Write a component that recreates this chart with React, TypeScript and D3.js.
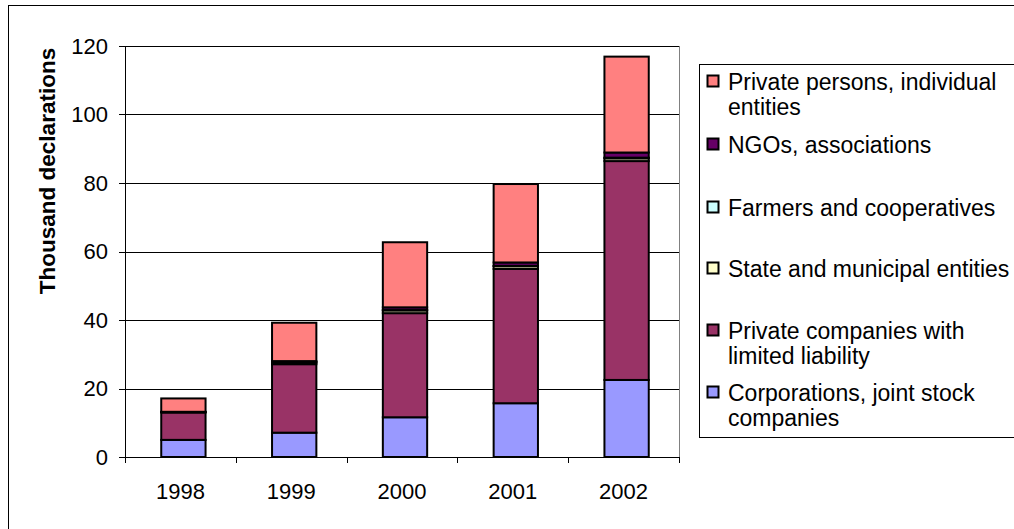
import React from "react";
import * as d3 from "d3";

const years = ["1998", "1999", "2000", "2001", "2002"];
const corporations = [5.0, 7.1, 11.6, 15.7, 22.5];
const privateCompanies = [8.0, 20.0, 30.4, 39.2, 63.9];
const stateEntities = [0.1, 0.5, 0.8, 0.8, 0.8];
const farmers = [0.0, 0.1, 0.1, 0.1, 0.2];
const ngos = [0.1, 0.3, 0.8, 1.0, 1.5];
const privatePersons = [3.9, 11.2, 19.0, 22.9, 28.0];
const yTicks = [0, 20, 40, 60, 80, 100, 120];

const seriesNames = [
  "Corporations, joint stock companies",
  "Private companies with limited liability",
  "State and municipal entities",
  "Farmers and cooperatives",
  "NGOs, associations",
  "Private persons, individual entities",
];
const seriesColors = ["#9999FF", "#993366", "#FFFFCC", "#CCFFFF", "#660066", "#FF8080"];
const seriesValues = [corporations, privateCompanies, stateEntities, farmers, ngos, privatePersons];

const legendLines: string[][] = [
  ["Private persons, individual", "entities"],
  ["NGOs, associations"],
  ["Farmers and cooperatives"],
  ["State and municipal entities"],
  ["Private companies with", "limited liability"],
  ["Corporations, joint stock", "companies"],
];
const legendColors = ["#FF8080", "#660066", "#CCFFFF", "#FFFFCC", "#993366", "#9999FF"];
const legendRowY = [82, 145, 208, 269, 331, 393];

export default function App() {
  const W = 1014, H = 529;
  const left = 125, right = 679, top = 46, bottom = 457;
  const x = d3.scaleBand<string>().domain(years).range([left + 3, right + 3]).paddingInner(0.6).paddingOuter(0.3);
  const band = d3.scaleBand<string>().domain(years).range([left, right]);
  const y = d3.scaleLinear().domain([0, 120]).range([bottom, top]);

  const table = years.map((yr, i) => {
    const o: any = { year: yr };
    seriesNames.forEach((n, k) => (o[n] = seriesValues[k][i]));
    return o;
  });
  const stacked = d3.stack<any>().keys(seriesNames)(table);
  const font = "Liberation Sans, Arial, sans-serif";

  return (
    <svg width={W} height={H} style={{ position: "absolute", left: 0, top: 0, background: "#fff" }}>
      <rect x={8.5} y={5.5} width={1020} height={540} fill="#fff" stroke="#000" strokeWidth={1} />
      {yTicks.slice(1).map((t) => (
        <line key={t} x1={left} x2={right} y1={Math.round(y(t)) + 0.5} y2={Math.round(y(t)) + 0.5} stroke="#000" strokeWidth={1} />
      ))}
      <line x1={right + 0.5} x2={right + 0.5} y1={top} y2={bottom} stroke="#808080" strokeWidth={1} />
      {stacked.map((s, k) => (
        <g key={k}>
          {s.map((d, i) => {
            const h = y(d[0]) - y(d[1]);
            return (
              <rect
                key={i}
                x={x(years[i])}
                y={y(d[1])}
                width={x.bandwidth()}
                height={Math.max(h, 0)}
                fill={seriesColors[k]}
                stroke="#000"
                strokeWidth={2}
              />
            );
          })}
        </g>
      ))}
      <line x1={left + 0.5} x2={left + 0.5} y1={top} y2={bottom} stroke="#000" strokeWidth={1} />
      {yTicks.map((t) => (
        <g key={t}>
          <line x1={left - 6} x2={left} y1={Math.round(y(t)) + 0.5} y2={Math.round(y(t)) + 0.5} stroke="#000" />
          <text x={108} y={y(t)} dy="0.35em" textAnchor="end" fontFamily={font} fontSize={22} fill="#000">
            {t}
          </text>
        </g>
      ))}
      <line x1={left} x2={right} y1={bottom + 0.5} y2={bottom + 0.5} stroke="#000" strokeWidth={1} />
      {years.map((yr) => (
        <line key={"t" + yr} x1={Math.round(band(yr)!) + 0.5} x2={Math.round(band(yr)!) + 0.5} y1={bottom} y2={bottom + 6} stroke="#000" />
      ))}
      <line x1={right + 0.5} x2={right + 0.5} y1={bottom} y2={bottom + 6} stroke="#000" />
      {years.map((yr) => (
        <text key={yr} x={band(yr)! + band.bandwidth() / 2} y={491} dy="0.35em" textAnchor="middle" fontFamily={font} fontSize={22} fill="#000">
          {yr}
        </text>
      ))}
      <text
        transform={`translate(47,171) rotate(-90)`}
        textAnchor="middle"
        dy="0.35em"
        fontFamily={font}
        fontSize={22.5}
        fontWeight="bold"
        fill="#000"
      >
        Thousand declarations
      </text>
      <rect x={699.5} y={64.5} width={320} height={373} fill="#fff" stroke="#000" strokeWidth={1} />
      {legendLines.map((lines, i) => (
        <g key={i}>
          <rect x={707.5} y={legendRowY[i] - 6.5} width={11} height={11} fill={legendColors[i]} stroke="#000" strokeWidth={2} />
          {lines.map((ln, j) => (
            <text key={j} x={728} y={legendRowY[i] + j * 25} dy="0.35em" fontFamily={font} fontSize={23} fill="#000">
              {ln}
            </text>
          ))}
        </g>
      ))}
    </svg>
  );
}
